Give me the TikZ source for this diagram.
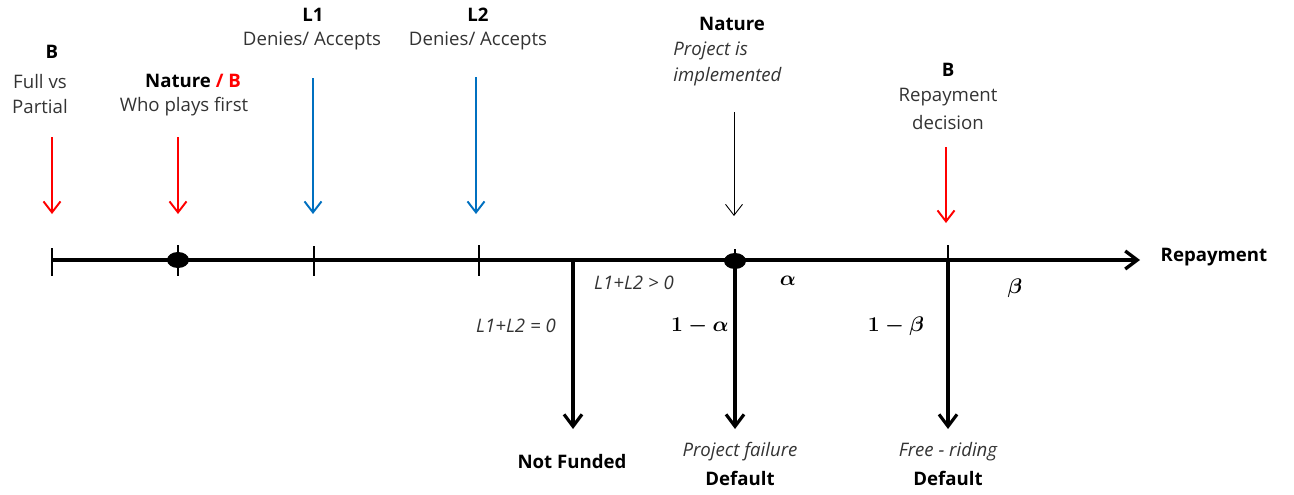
\documentclass[tikz,border=0pt]{standalone}
\usepackage{amsmath}
\usepackage{amssymb}
\usepackage{fontspec}
\setmainfont{Open Sans}
\usepackage{tikz}
\usetikzlibrary{arrows.meta,shapes.geometric}
\definecolor{movered}{RGB}{255,0,0}
\definecolor{moveblue}{RGB}{0,112,192}
\tikzstyle{lbl}=[inner sep=0pt, text=black!80, font=\fontsize{10.6}{12}\selectfont]
\tikzstyle{lblb}=[inner sep=0pt, font=\fontsize{10.6}{12}\selectfont\bfseries]
\tikzstyle{lbli}=[lbl, font=\fontsize{10.6}{12}\selectfont\itshape]
\tikzstyle{prob}=[inner sep=0pt, font=\fontsize{11.5}{12}\selectfont]
\tikzstyle{chance}=[ellipse, fill, inner sep=0pt, minimum width=0.44cm, minimum height=0.32cm]
\tikzstyle{tick}=[draw=black, line width=0.6pt]
\tikzstyle{moveR}=[draw=movered, line width=1.1pt, -{Straight Barb[length=2.2mm, width=3.4mm]}]
\tikzstyle{moveB}=[draw=moveblue, line width=1.1pt, -{Straight Barb[length=2.2mm, width=3.4mm]}]
\tikzstyle{moveK}=[draw=black, line width=0.5pt, -{Straight Barb[length=2.2mm, width=3.4mm]}]
\tikzstyle{outcome}=[draw=black, line width=1.8pt, -{Straight Barb[length=2.4mm, width=3.6mm]}]
\begin{document}
\begin{tikzpicture}[x=0.02cm, y=-0.02cm]
		   \useasboundingbox (0,0) rectangle (1294,494);
		   \begin{scope}
			   % time line
			   \coordinate (t0) at (52,260);
			   \coordinate (end) at (1140,260);
			   \node (rep) at (1214,257)[lblb] {Repayment};
			   \draw [line width=1.9pt, -{Straight Barb[length=2.4mm, width=3.6mm]}] (t0) -- (end);
			   \node (n1) at (178,260)[chance] {};
			   \coordinate (t2) at (314,260);
			   \coordinate (t3) at (479,260);
			   \coordinate (fork) at (573,260);
			   \node (n2) at (735,261)[chance] {};
			   \coordinate (t5) at (948,260);
			   \draw [tick] (52,248) -- (52,276);
			   \draw [tick] (178,245) -- (178,276);
			   \draw [tick] (314,246) -- (314,276);
			   \draw [tick] (479,245) -- (479,276);
			   \draw [tick] (735,249) -- (735,260);
			   \draw [tick] (948,245) -- (948,260);
		   \end{scope}
		   \begin{scope}
			   % who moves when
			   \node (b0) at (52,52)[lblb] {B};
			   \node (full) at (40,82)[lbl] {Full vs};
			   \node (part) at (40,107)[lbl] {Partial};
			   \node (nat1) at (193,81)[lblb] {Nature \textcolor{movered}{/ B}};
			   \node (who) at (184,107)[lbl] {Who plays first};
			   \node (l1) at (313,15)[lblb] {L1};
			   \node (l1d) at (312,41)[lbl] {Denies/ Accepts};
			   \node (l2) at (478,15)[lblb] {L2};
			   \node (l2d) at (478,41)[lbl] {Denies/ Accepts};
			   \node (nat2) at (732,24)[lblb] {Nature};
			   \node (proj) at (673,51)[lbli, anchor=west] {Project is};
			   \node (impl) at (673,77)[lbli, anchor=west] {implemented};
			   \node (b5) at (948,70)[lblb] {B};
			   \node (repd) at (948,97)[lbl] {Repayment};
			   \node (dec) at (948,123)[lbl] {decision};
		   \end{scope}
		   \begin{scope}
			   \coordinate (a0) at (52,137);
			   \coordinate (a1) at (178,137);
			   \coordinate (a2) at (313,78);
			   \coordinate (a3) at (476,77);
			   \coordinate (a4) at (734,112);
			   \coordinate (a5) at (946,147);
			   \draw [moveR] (a0) -- (52,214);
			   \draw [moveR] (a1) -- (178,214);
			   \draw [moveB] (a2) -- (313,214);
			   \draw [moveB] (a3) -- (476,214);
			   \draw [moveK] (a4) -- (734,216);
			   \draw [moveR] (a5) -- (946,223);
		   \end{scope}
		   \begin{scope}
			   % branches
			   \node (nf) at (572,462)[lblb] {Not Funded};
			   \node (pf) at (740,452)[lbli] {Project failure};
			   \node (d1) at (740,478)[lblb] {Default};
			   \node (fr) at (948,452)[lbli] {Free - riding};
			   \node (d2) at (948,478)[lblb] {Default};
			   \draw [outcome] (fork) -- (573,429);
			   \draw [outcome] (n2.center) -- (735,429);
			   \draw [outcome] (t5) -- (948,429);
			   \node (pos) at (634,283)[lbli] {L1+L2 > 0};
			   \node (zero) at (516,326)[lbli] {L1+L2 = 0};
			   \node (al) at (788,281)[prob] {$\boldsymbol{\alpha}$};
			   \node (be) at (1015,288)[prob] {$\boldsymbol{\beta}$};
			   \node (nal) at (700,326)[prob] {$\boldsymbol{1-\alpha}$};
			   \node (nbe) at (896,326)[prob] {$\boldsymbol{1-\beta}$};
		   \end{scope}
	   \end{tikzpicture}
\end{document}
